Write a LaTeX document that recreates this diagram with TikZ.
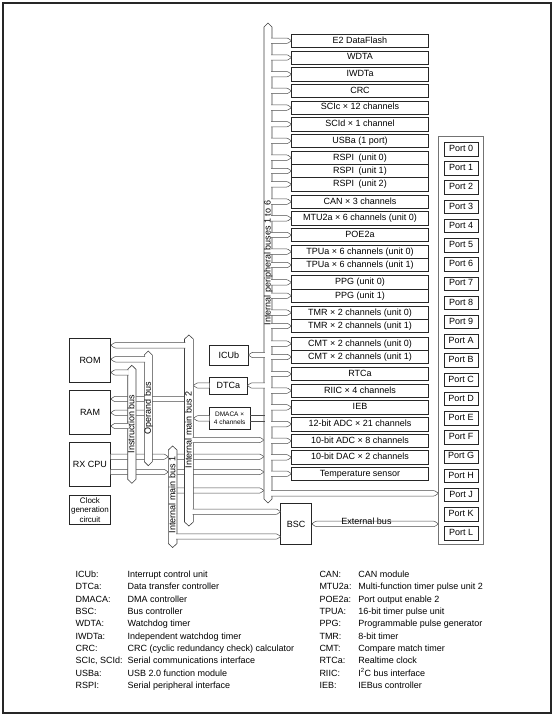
\documentclass[tikz,border=0pt]{standalone}
\usepackage{fontspec}
\setmainfont{Liberation Sans}
\usetikzlibrary{calc}
\newcommand\conn[3][0.8]{%
  \path[conn] let \p1=#2, \p2=#3, \n1={ifthenelse(\x2>\x1,1,-1)} in
    (\x1-#1pt*\n1, \y2+2.7pt) -- (\x2-4pt*\n1, \y2+2.7pt) -- (\x2, \y2) -- (\x2-4pt*\n1, \y2-2.7pt) -- (\x1-#1pt*\n1, \y2-2.7pt);}
\newcommand\connboth[2]{%
  \path[conn] let \p1=#1, \p2=#2, \n1={ifthenelse(\x2>\x1,1,-1)} in
    (\x1,\y2) -- (\x1+4pt*\n1,\y2+2.7pt) -- (\x2-4pt*\n1,\y2+2.7pt) -- (\x2,\y2) -- (\x2-4pt*\n1,\y2-2.7pt) -- (\x1+4pt*\n1,\y2-2.7pt) -- cycle;}
\newcommand\connplain[2]{%
  \path[conn] let \p1=#1, \p2=#2, \n1={ifthenelse(\x2>\x1,1,-1)} in
    (\x1-0.8pt*\n1,\y2+2.7pt) -- (\x2,\y2+2.7pt) (\x2,\y2-2.7pt) -- (\x1-0.8pt*\n1,\y2-2.7pt);}
\newcommand\vbus[1]{\path[bus] ([yshift=-4pt]#1.north west) -- (#1.north) -- ([yshift=-4pt]#1.north east) -- ([yshift=4pt]#1.south east) -- (#1.south) -- ([yshift=4pt]#1.south west) -- cycle;}
\newcommand\pb[4]{\node[pbox, minimum height=#3pt] (#1) at (360,{#2+#3/2}) {#4};}
\begin{document}
\begin{tikzpicture}[x=1pt,y=-1pt,
  every node/.style={inner sep=0pt, outer sep=0pt},
  f9/.style={font=\fontsize{9}{10.5}\selectfont, text height=6.6pt, text depth=1.9pt},
  pbox/.style={draw=black!85, line width=0.6pt, f9, minimum width=137pt},
  portbox/.style={draw=black!85, line width=0.6pt, f9, minimum width=34.3pt, minimum height=13.5pt},
  lbox/.style={draw=black!85, line width=0.6pt, font=\fontsize{9}{10.5}\selectfont},
  bus/.style={draw=black!75, fill=white, line width=0.6pt},
  conn/.style={draw=black!70, fill=white, line width=0.5pt, rounded corners=0.8pt},
  busnode/.style={minimum width=#1},
]
\useasboundingbox (0,0) rectangle (554,716);
\node[draw=black!85, line width=1.2pt, minimum width=548pt, minimum height=710pt] (frame) at (277,358) {};

% ports
\node[draw=black!55, line width=0.9pt, minimum width=44.5pt, minimum height=408.5pt] (ports) at (460.75,340.25) {};
\foreach \lab [count=\i from 0] in {0,1,2,3,4,5,6,7,8,9,A,B,C,D,E,F,G,H,J,K,L}
  \node[portbox] (port\lab) at (461.15,{149.05+19.22*\i}) {Port \lab};

% peripheral boxes
\pb{e2}{34}{13.4}{E2 DataFlash}
\pb{wdta}{50.8}{13.4}{WDTA}
\pb{iwdt}{67.5}{13.4}{IWDTa}
\pb{crc}{84.2}{13.4}{CRC}
\pb{scic}{100.9}{13.4}{SCIc × 12 channels}
\pb{scid}{117.5}{13.4}{SCId × 1 channel}
\pb{usb}{134.2}{13.4}{USBa (1 port)}
\pb{rspia}{151}{13.3}{RSPI\enspace(unit 0)}
\pb{rspib}{164.3}{13.3}{RSPI\enspace(unit 1)}
\pb{rspic}{177.6}{13.4}{RSPI\enspace(unit 2)}
\pb{can}{195}{13.3}{CAN × 3 channels}
\pb{mtu}{211.7}{13.3}{MTU2a × 6 channels (unit 0)}
\pb{poe}{228.3}{13.4}{POE2a}
\pb{tpua}{245}{13.3}{TPUa × 6 channels (unit 0)}
\pb{tpub}{258.3}{13.4}{TPUa × 6 channels (unit 1)}
\pb{ppga}{275.7}{13.4}{PPG (unit 0)}
\pb{ppgb}{289.1}{13.3}{PPG (unit 1)}
\pb{tmra}{306}{13.3}{TMR × 2 channels (unit 0)}
\pb{tmrb}{319.3}{13.4}{TMR × 2 channels (unit 1)}
\pb{cmta}{337}{13.3}{CMT × 2 channels (unit 0)}
\pb{cmtb}{350.3}{13.3}{CMT × 2 channels (unit 1)}
\pb{rtc}{367.3}{13.4}{RTCa}
\pb{riic}{384}{13.3}{RIIC × 4 channels}
\pb{ieb}{400.7}{13.3}{IEB}
\pb{adca}{417.3}{13.5}{12-bit ADC × 21 channels}
\pb{adcb}{434.3}{13.2}{10-bit ADC × 8 channels}
\pb{dac}{450.7}{13.3}{10-bit DAC × 2 channels}
\pb{temp}{467.3}{12.9}{Temperature sensor}

% left boxes
\node[lbox, minimum width=41.4pt, minimum height=44pt] (rom) at (90,360.3) {ROM};
\node[lbox, minimum width=41.4pt, minimum height=43.6pt] (ram) at (90,412.5) {RAM};
\node[lbox, minimum width=41.4pt, minimum height=44pt] (cpu) at (90,464.7) {RX CPU};
\node[lbox, minimum width=41.4pt, minimum height=28.6pt, align=center, font=\fontsize{8}{9.6}\selectfont] (clk) at (90,510) {Clock\\generation\\circuit};
\node[lbox, minimum width=39pt, minimum height=20pt] (icu) at (228.8,355) {ICUb};
\node[lbox, minimum width=38pt, minimum height=17pt] (dtc) at (228.3,385.5) {DTCa};
\node[lbox, minimum width=40.7pt, minimum height=22pt, align=center, font=\fontsize{6.5}{8.5}\selectfont] (dma) at (229.65,418.3) {DMACA ×\\4 channels};
\node[lbox, minimum width=31pt, minimum height=41.2pt] (bsc) at (296.2,523.9) {BSC};

% bus anchor nodes
\node[busnode=8pt, minimum height=480pt] (pbus) at (268,263) {};
\node[busnode=8.8pt, minimum height=191pt] (bus2) at (188.9,430.5) {};
\node[busnode=8.7pt, minimum height=101.5pt] (bus1) at (172.65,496.75) {};
\node[busnode=8.3pt, minimum height=118pt] (ibus) at (131.85,424.3) {};
\node[busnode=8pt, minimum height=114.7pt] (obus) at (148.3,408.35) {};

% level coordinates
\coordinate (yr1) at (0,345.3);
\coordinate (yr2) at (0,359.3);
\coordinate (yr3) at (0,372.5);
\coordinate (ya1) at (0,399);
\coordinate (ya2) at (0,412.7);
\coordinate (ya3) at (0,426);
\coordinate (yc1) at (0,456.7);
\coordinate (yc2) at (0,472);
\coordinate (yq1) at (0,440);
\coordinate (yq4) at (0,490.5);
\coordinate (yj) at (0,493.3);
\coordinate (yb1) at (0,511.7);
\coordinate (yb2) at (0,536.5);

% connectors passing behind buses
\conn{(bus2.west |- ya1)}{(ram.east |- ya1)}
\conn{(obus.west |- ya2)}{(ram.east |- ya2)}
\conn[0]{(cpu.east |- yc1)}{(bus1.west |- yc1)}
\conn[0]{(cpu.east |- yc2)}{(bus1.west |- yc2)}
\conn{(bus1.east |- yc1)}{(pbus.west |- yc1)}
\conn{(bus1.east |- yc2)}{(pbus.west |- yc2)}
\conn{(bus1.east |- yq4)}{(pbus.west |- yq4)}

% buses
\vbus{ibus}\vbus{obus}\vbus{bus1}\vbus{bus2}\vbus{pbus}
\node[f9, rotate=90] (libus) at (132,424) {Instruction bus};
\node[f9, rotate=90] (lobus) at (148.5,408) {Operand bus};
\node[f9, rotate=90] (lbus2) at (189.2,430) {Internal main bus 2};
\node[f9, rotate=90] (lbus1) at (173,495) {Internal main bus 1};
\node[f9, rotate=90] (lpbus) at (268.3,263) {Internal peripheral buses 1 to 6};

% connectors to peripheral boxes
\foreach \bx in {e2,wdta,iwdt,crc,scic,scid,usb,rspia,rspib,rspic,can,mtu,poe,tpua,tpub,ppga,ppgb,tmra,tmrb,cmta,cmtb,rtc,riic,ieb,adca,adcb,dac,temp}
  {\conn{(pbus.east |- \bx.west)}{(\bx.west)}}

% other connectors
\conn{(bus2.west |- yr1)}{(rom.east |- yr1)}
\conn{(obus.west |- yr2)}{(rom.east |- yr2)}
\conn{(ibus.west |- yr3)}{(rom.east |- yr3)}
\conn{(ibus.west |- ya3)}{(ram.east |- ya3)}
\conn{(pbus.west |- icu.east)}{(icu.east)}
\conn{(pbus.west |- dtc.east)}{(dtc.east)}
\conn[0]{(dtc.west)}{(bus2.east |- dtc.west)}
\conn[0]{(dma.west)}{(bus2.east |- dma.west)}
\connplain{(pbus.west |- dma.east)}{(dma.east)}
\conn{(bus2.east |- yq1)}{(pbus.west |- yq1)}
\conn{(pbus.east |- yj)}{(ports.west |- yj)}
\conn{(bus2.east |- yb1)}{(bsc.west |- yb1)}
\conn{(bus1.east |- yb2)}{(bsc.west |- yb2)}
\connboth{(bsc.east)}{(ports.west |- bsc.east)}
\node[f9] (extlbl) at (366.5,521.8) {External bus};

% legend
\foreach \ab/\de [count=\i from 0] in {ICUb:/Interrupt control unit, DTCa:/Data transfer controller, DMACA:/DMA controller, BSC:/Bus controller, WDTA:/Watchdog timer, IWDTa:/Independent watchdog timer, CRC:/CRC (cyclic redundancy check) calculator, {SCIc, SCId:}/Serial communications interface, USBa:/USB 2.0 function module, RSPI:/Serial peripheral interface}
{
  \node[f9, anchor=west] (la\i) at (75.7,{575+12.35*\i}) {\ab};
  \node[f9, anchor=west] (ld\i) at (127.7,{575+12.35*\i}) {\de};
}
\foreach \ab/\de [count=\i from 0] in {CAN:/CAN module, MTU2a:/Multi-function timer pulse unit 2, POE2a:/Port output enable 2, TPUA:/16-bit timer pulse unit, PPG:/Programmable pulse generator, TMR:/8-bit timer, CMT:/Compare match timer, RTCa:/Realtime clock, RIIC:/I\textsuperscript{2}C bus interface, IEB:/IEBus controller}
{
  \node[f9, anchor=west] (ra\i) at (319.5,{575+12.35*\i}) {\ab};
  \node[f9, anchor=west] (rd\i) at (358.3,{575+12.35*\i}) {\de};
}
\end{tikzpicture}
\end{document}
